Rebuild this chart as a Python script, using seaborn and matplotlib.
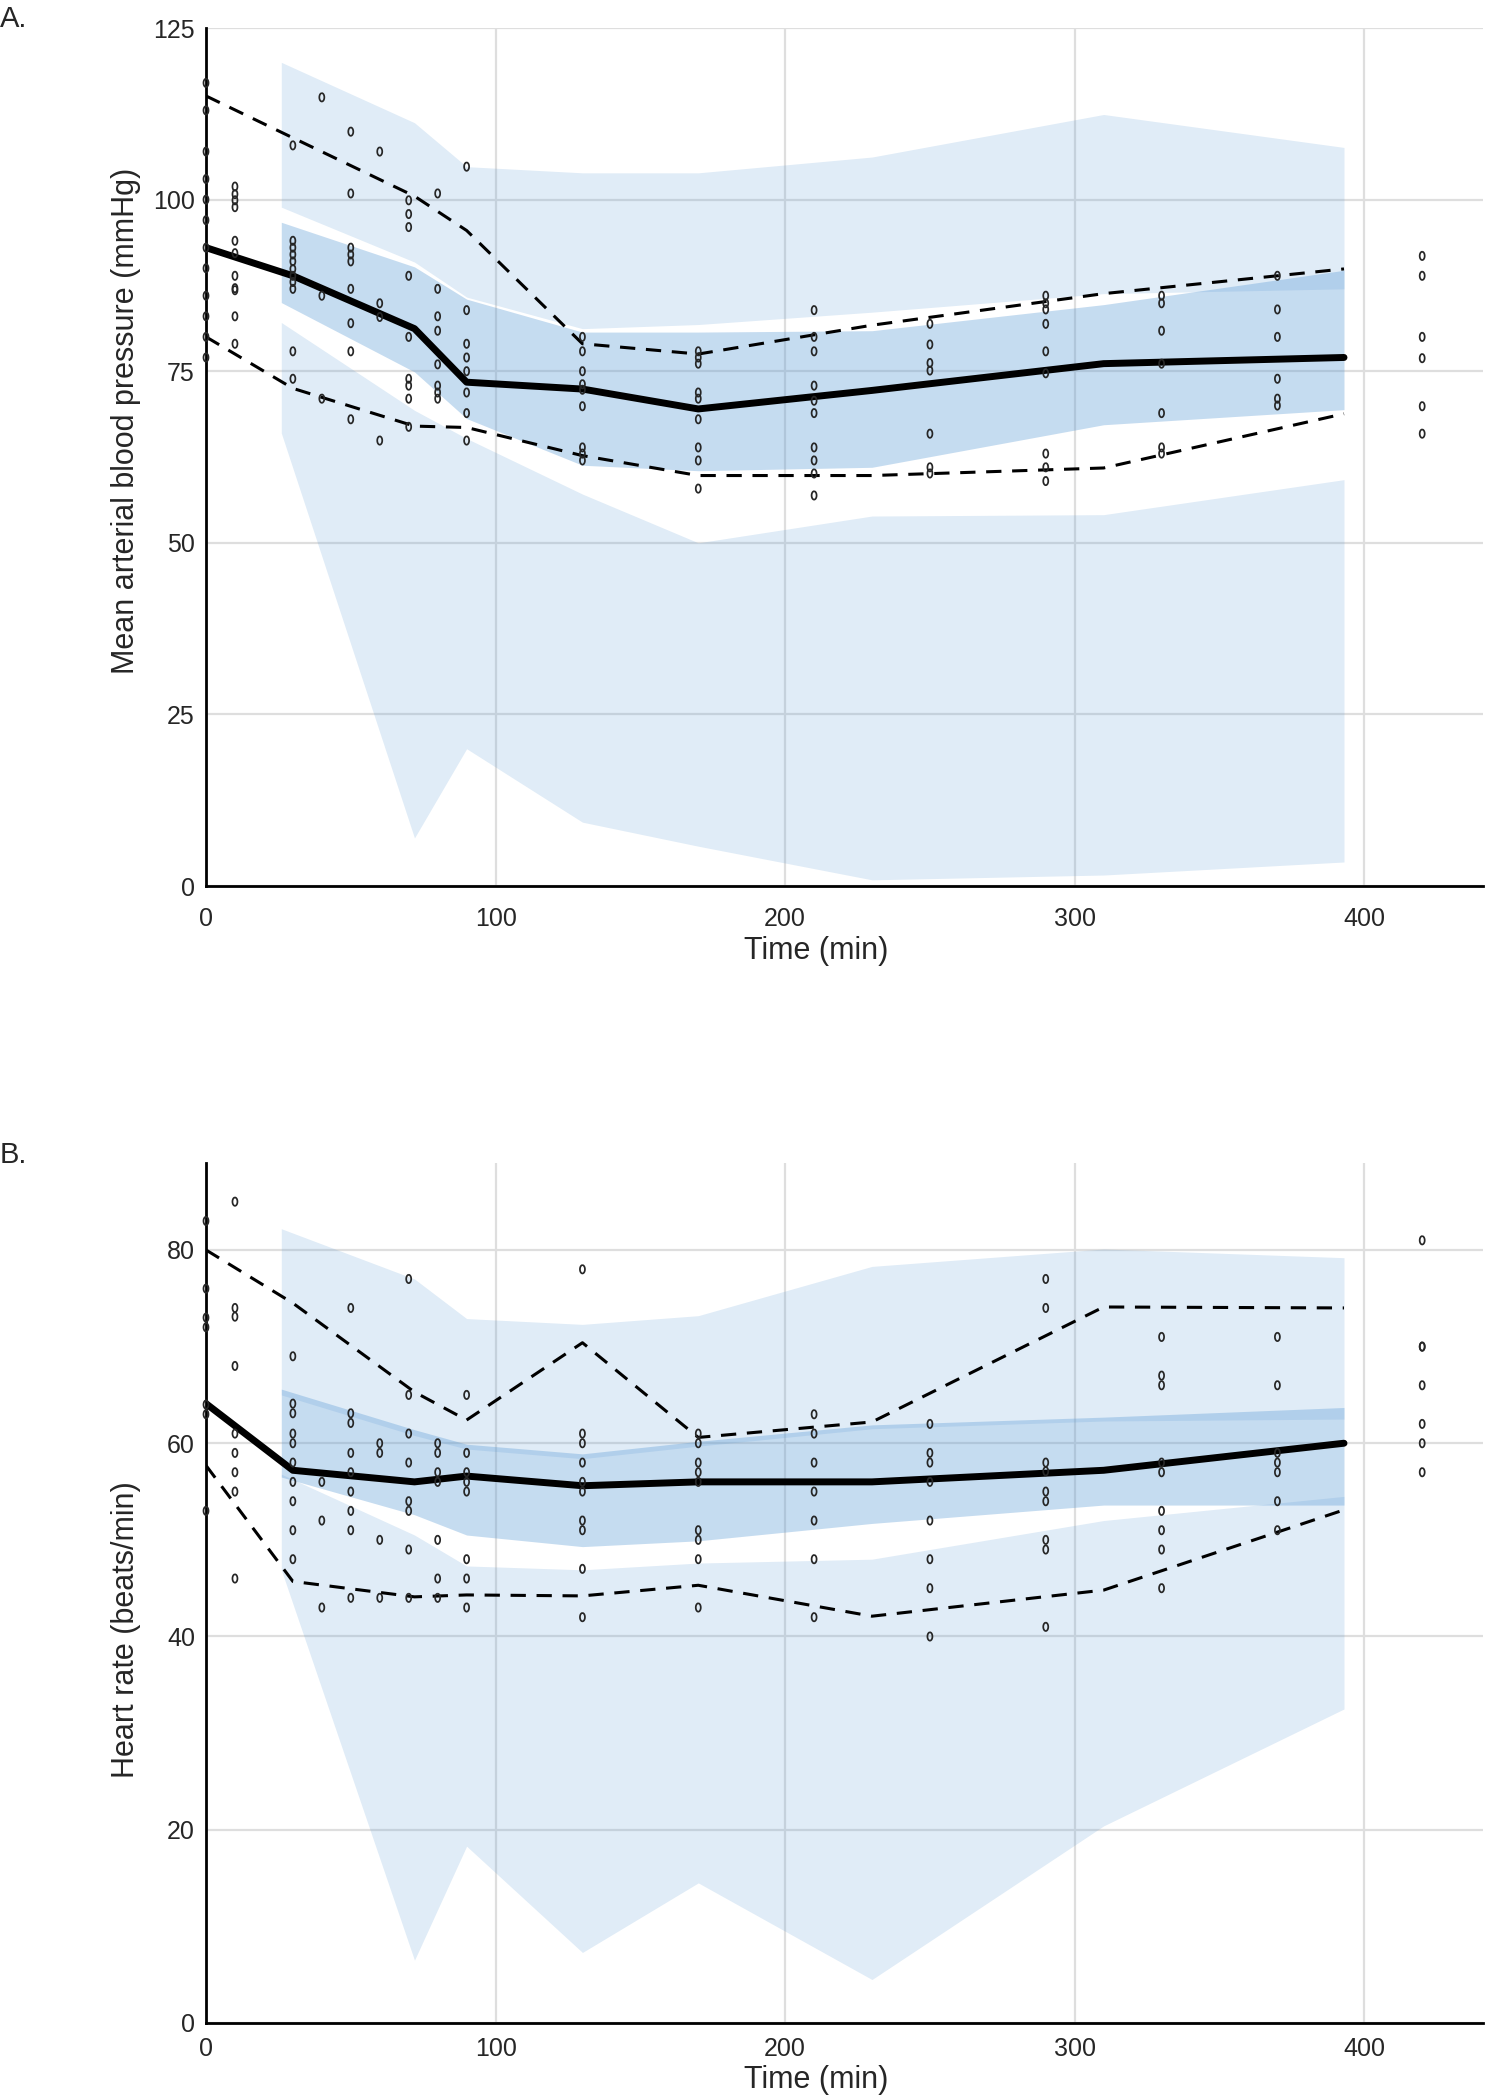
import matplotlib

matplotlib.use("Agg")
import matplotlib.pyplot as plt
import numpy as np
import pandas as pd
import seaborn as sns
from matplotlib.path import Path

# --- data ------------------------------------------------------------------
# x positions of the prediction bands and of the observed percentile lines
BAND_T = [26, 72, 90, 130, 170, 230, 310, 393]
LINE_T = [0, 30, 72, 90, 130, 170, 230, 310, 393]
TICKS_T = [0, 100, 200, 300, 400]

# Panel A: mean arterial pressure (mmHg)
MAP_HI_TOP = [120.0, 111.2, 104.8, 103.9, 103.9, 106.2, 112.4, 107.6]
MAP_HI_BOT = [98.9, 90.9, 85.8, 81.2, 81.8, 83.6, 86.3, 87.0]
MAP_MED_TOP = [96.7, 90.2, 85.5, 80.7, 80.7, 80.9, 84.7, 89.7]
MAP_MED_BOT = [85.0, 74.9, 68.1, 61.3, 60.5, 61.0, 67.2, 69.4]
MAP_LO_TOP = [82.1, 69.3, 65.2, 57.1, 50.0, 53.9, 54.1, 59.2]
MAP_LO_BOT = [66.0, 7.0, 20.0, 9.3, 5.8, 0.9, 1.6, 3.5]
MAP_OBS_MEDIAN = [93.0, 88.9, 81.2, 73.4, 72.4, 69.5, 72.2, 76.1, 77.0]
MAP_OBS_P95 = [115.1, 109.0, 100.5, 95.5, 79.0, 77.5, 81.7, 86.3, 89.9]
MAP_OBS_P05 = [80.0, 72.5, 67.0, 66.8, 62.7, 59.8, 59.8, 60.9, 68.8]
MAP_OBS = {
    0: [117, 113, 107, 103, 100, 97, 93, 90, 86, 83, 80, 77],
    10: [101.9, 100.8, 99.9, 98.9, 94.0, 92.2, 88.9, 87.1, 86.8, 83.0, 79.0],
    30: [107.9, 94.0, 93.0, 92.0, 91.0, 89.9, 88.9, 88.0, 87.0, 77.9, 73.9],
    40: [114.9, 86.0, 71.0],
    50: [109.9, 100.9, 93.0, 92.0, 91.0, 87.0, 82.0, 77.9, 68.0],
    60: [107.0, 84.9, 82.9, 64.9],
    70: [99.9, 97.9, 96.0, 88.9, 80.0, 73.9, 72.9, 71.0, 66.9],
    80: [100.9, 87.0, 83.0, 80.9, 76.0, 72.9, 71.9, 71.0],
    90: [104.8, 83.9, 79.0, 77.0, 75.0, 71.9, 68.9, 64.9],
    130: [80.0, 77.9, 75.0, 73.1, 72.3, 69.9, 63.9, 63.0, 62.0],
    170: [77.9, 77.0, 76.1, 71.9, 71.0, 68.0, 63.9, 62.0, 57.9],
    210: [83.9, 80.0, 77.9, 72.9, 70.7, 68.9, 63.9, 62.0, 60.1, 56.9],
    250: [81.9, 78.9, 76.2, 75.1, 65.9, 61.0, 60.1],
    290: [86.0, 84.9, 84.0, 81.9, 77.9, 74.7, 63.0, 61.0, 59.0],
    330: [86.0, 84.9, 80.9, 76.1, 68.9, 63.9, 63.0],
    370: [88.9, 84.0, 80.0, 73.9, 71.0, 70.0],
    420: [91.8, 88.9, 80.0, 76.9, 69.9, 65.9],
}

# Panel B: heart rate (beats/min)
HR_HI_TOP = [82.2, 77.0, 72.9, 72.3, 73.2, 78.3, 80.1, 79.2]
HR_HI_BOT = [65.0, 60.8, 59.4, 58.4, 59.7, 61.5, 62.3, 62.5]
HR_MED_TOP = [65.6, 61.4, 59.9, 58.9, 60.2, 61.9, 62.7, 63.7]
HR_MED_BOT = [56.5, 52.6, 50.5, 49.3, 49.9, 51.7, 53.6, 53.6]
HR_LO_TOP = [56.8, 50.5, 47.3, 46.9, 47.6, 48.0, 52.0, 54.5]
HR_LO_BOT = [46.9, 6.5, 18.3, 7.3, 14.5, 4.5, 20.4, 32.5]
HR_OBS_MEDIAN = [64.1, 57.2, 56.0, 56.6, 55.6, 56.0, 56.0, 57.2, 60.0]
HR_OBS_P95 = [80.0, 74.5, 65.3, 62.4, 70.4, 60.6, 62.2, 74.1, 74.0]
HR_OBS_P05 = [57.7, 45.7, 44.1, 44.3, 44.2, 45.3, 42.1, 44.8, 53.1]
HR_OBS = {
    0: [83, 76, 73, 72, 64, 63, 53],
    10: [85.0, 74.0, 73.1, 68.0, 61.0, 59.0, 57.0, 55.0, 46.0],
    30: [69.0, 64.1, 63.1, 61.0, 60.0, 58.0, 56.0, 54.0, 51.0, 48.0],
    40: [56.0, 52.0, 43.0],
    50: [74.0, 63.1, 62.1, 59.0, 57.0, 55.0, 53.0, 51.0, 44.0],
    60: [60.0, 59.0, 50.0, 44.0],
    70: [77.0, 65.0, 61.0, 58.0, 54.0, 53.0, 49.0, 44.0],
    80: [60.0, 59.0, 57.0, 56.0, 50.0, 46.0, 44.0],
    90: [65.0, 59.0, 57.0, 56.0, 55.0, 48.0, 46.0, 43.0],
    130: [78.0, 61.0, 60.0, 58.0, 56.0, 55.0, 52.0, 51.0, 47.0, 42.0],
    170: [61.0, 60.0, 58.0, 57.0, 56.0, 51.0, 50.0, 48.0, 43.0],
    210: [63.0, 61.0, 58.0, 55.0, 52.0, 48.0, 42.0],
    250: [62.0, 59.0, 58.0, 56.0, 52.0, 48.0, 45.0, 40.0],
    290: [77.0, 74.0, 58.0, 57.1, 55.0, 54.0, 50.0, 49.0, 41.0],
    330: [71.0, 67.0, 66.0, 58.0, 57.0, 53.0, 51.0, 49.0, 45.0],
    370: [71.0, 66.0, 59.0, 58.0, 57.0, 54.0, 51.0],
    420: [81.0, 70.0, 70.0, 66.0, 62.0, 60.0, 57.0],
}

BLUE = "#5b9bd5"
NARROW = ["Liberation Sans Narrow", "Liberation Sans", "DejaVu Sans"]
REGULAR = ["Liberation Sans", "DejaVu Sans"]

# tall open ellipse, looks like the small "0" markers of the original
theta = np.linspace(0, 2 * np.pi, 41)
RING = Path(np.column_stack([0.6 * np.sin(theta), np.cos(theta)]))


def obs_frame(obs: dict) -> pd.DataFrame:
    rows = [(t, v) for t, vals in obs.items() for v in vals]
    return pd.DataFrame(rows, columns=["time", "value"])


def draw_panel(ax, bands, median, p95, p05, obs, ylim, yticks, ylabel, xpad):
    hi_top, hi_bot, med_top, med_bot, lo_top, lo_bot = bands
    ax.fill_between(BAND_T, hi_bot, hi_top, color=BLUE, alpha=0.19, lw=0, zorder=2)
    ax.fill_between(BAND_T, lo_bot, lo_top, color=BLUE, alpha=0.19, lw=0, zorder=2)
    ax.fill_between(BAND_T, med_bot, med_top, color=BLUE, alpha=0.35, lw=0, zorder=2)

    sns.lineplot(x=LINE_T, y=median, color="black", lw=5.0, ax=ax, zorder=4)
    for vals in (p95, p05):
        sns.lineplot(x=LINE_T, y=vals, color="black", lw=2.2,
                     linestyle=(0, (5, 3.5)), ax=ax, zorder=4)

    df = obs_frame(obs)
    sns.scatterplot(df, x="time", y="value", marker=RING, s=36, color="#262626",
                    linewidth=1.25, ax=ax, zorder=5, clip_on=False)
    pts = ax.collections[-1]
    pts.set_facecolor("none")
    pts.set_edgecolor("#262626")

    ax.set_xlim(0, 441)
    ax.set_ylim(*ylim)
    ax.set_xticks(TICKS_T)
    ax.set_yticks(yticks)
    ax.grid(True, color="#dedede", lw=1.6)
    ax.set_axisbelow(True)
    for side in ("top", "right"):
        ax.spines[side].set_visible(False)
    for side in ("left", "bottom"):
        ax.spines[side].set_color("black")
        ax.spines[side].set_linewidth(2.0)
        ax.spines[side].set_zorder(3)
    ax.tick_params(length=0, labelsize=18)
    ax.tick_params(axis="y", pad=8)
    ax.tick_params(axis="x", pad=xpad)
    for lab in ax.get_xticklabels() + ax.get_yticklabels():
        lab.set_family(NARROW)
    ax.set_xlabel("Time (min)", fontsize=22, family=REGULAR)
    ax.set_ylabel(ylabel, fontsize=22, family=REGULAR)


sns.set_theme(style="white")
plt.rcParams["font.family"] = REGULAR

fig = plt.figure(figsize=(14.87, 21.0), dpi=100)
W, H = 1487, 2100
ax_a = fig.add_axes([206 / W, 1 - 886 / H, 1277 / W, 858 / H])
ax_b = fig.add_axes([206 / W, 1 - 2023 / H, 1277 / W, 860 / H])

draw_panel(
    ax_a,
    (MAP_HI_TOP, MAP_HI_BOT, MAP_MED_TOP, MAP_MED_BOT, MAP_LO_TOP, MAP_LO_BOT),
    MAP_OBS_MEDIAN, MAP_OBS_P95, MAP_OBS_P05, MAP_OBS,
    (0, 125), [0, 25, 50, 75, 100, 125],
    "Mean arterial blood pressure (mmHg)", 15,
)
draw_panel(
    ax_b,
    (HR_HI_TOP, HR_HI_BOT, HR_MED_TOP, HR_MED_BOT, HR_LO_TOP, HR_LO_BOT),
    HR_OBS_MEDIAN, HR_OBS_P95, HR_OBS_P05, HR_OBS,
    (0, 89), [0, 20, 40, 60, 80],
    "Heart rate (beats/min)", 10,
)

ax_a.yaxis.set_label_coords(-0.051, 0.542)
ax_a.xaxis.set_label_coords(0.478, -0.058)
ax_b.yaxis.set_label_coords(-0.051, 0.457)
ax_b.xaxis.set_label_coords(0.478, -0.049)

fig.text(0.0, 1 - 27 / H, "A.", fontsize=21, ha="left", va="baseline")
fig.text(0.0, 1 - 1163 / H, "B.", fontsize=21, ha="left", va="baseline")

fig.savefig("out.png", dpi=100)
